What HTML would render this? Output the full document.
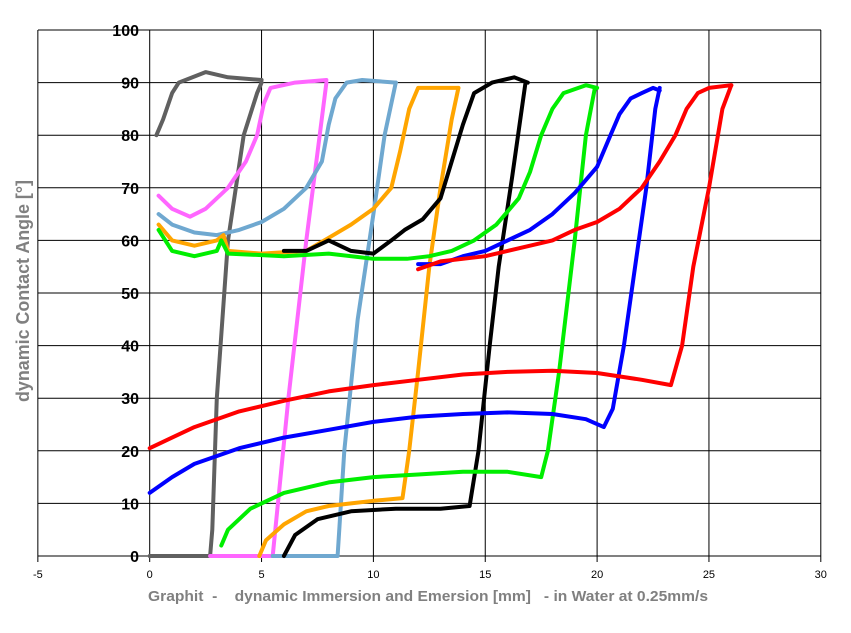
<!DOCTYPE html>
<html><head><meta charset="utf-8"><style>
body{margin:0;background:#fff;}
svg{display:block;font-family:"Liberation Sans",Arial,sans-serif;}
</style></head><body>
<svg id="s" width="851" height="633" xmlns="http://www.w3.org/2000/svg">
<rect width="851" height="633" fill="#fff"/>
<g id="grid" stroke="#000" stroke-width="1"></g>
<g id="lbl"></g>
<g id="data" fill="none" stroke-width="4" stroke-linejoin="round" stroke-linecap="round"></g>
<text x="148" y="601" textLength="560" lengthAdjust="spacingAndGlyphs" font-size="15" font-weight="bold" fill="#808080" xml:space="preserve">Graphit  -    dynamic Immersion and Emersion [mm]   - in Water at 0.25mm/s</text>
<text transform="translate(29,291) rotate(-90)" x="-111" y="0" textLength="222" lengthAdjust="spacingAndGlyphs" font-size="18" font-weight="bold" fill="#808080">dynamic Contact Angle [°]</text>
</svg>
<script>
const X=v=>149.7+22.37*v, Y=v=>556-5.26*v;
const g=document.getElementById('grid'),l=document.getElementById('lbl'),d=document.getElementById('data');
const NS='http://www.w3.org/2000/svg';
function el(p,t,a,txt){const e=document.createElementNS(NS,t);for(const k in a)e.setAttribute(k,a[k]);if(txt!==undefined)e.textContent=txt;p.appendChild(e);return e;}
for(let v=0;v<=100;v+=10){el(g,'line',{x1:38,x2:821,y1:Y(v),y2:Y(v)});el(l,'text',{x:139,y:Y(v)+6,'text-anchor':'end','font-size':16,'font-weight':'bold'},v);}
for(let v=-5;v<=30;v+=5){el(g,'line',{x1:X(v),x2:X(v),y1:30,y2:562});el(l,'text',{x:X(v),y:578,'text-anchor':'middle','font-size':11},v);}
const S=[
['#606060',[[0,0],[2.7,0],[2.8,5],[3,30],[3.5,60],[4.2,80],[4.8,88],[5,90]],[[0.3,80],[0.6,83],[1,88],[1.3,90],[2.5,92],[3.5,91],[5,90.5]]],
['#ff66ff',[[2.7,0],[5.5,0],[6.2,30],[7,60],[7.6,80],[7.9,90]],[[0.4,68.5],[1,66],[1.8,64.5],[2.5,66],[3.5,70],[4.3,75],[4.8,80],[5.1,86],[5.4,89],[6.5,90],[7.9,90.5]]],
['#6fa8d0',[[5.5,0],[8.4,0],[8.7,20],[9.3,45],[10,65],[10.5,80],[11,90]],[[0.4,65],[1,63],[2,61.5],[3,61],[4,62],[5,63.5],[6,66],[7,70],[7.7,75],[8,82],[8.3,87],[8.8,90],[9.5,90.5],[11,90]]],
['#ffa500',[[4.9,0],[5.2,3],[6,6],[7,8.5],[8,9.5],[9,10],[10,10.5],[11.3,11],[11.6,20],[12,35],[12.5,55],[13,70],[13.5,83],[13.8,89]],[[0.4,63],[1,60],[2,59],[3,60],[3.3,61],[3.5,58],[5,57.5],[7,58],[8,60.5],[9,63],[10,66],[10.8,70],[11.2,77],[11.6,85],[12,89],[13.8,89]]],
['#000000',[[6,0],[6.5,4],[7.5,7],[9,8.5],[11,9],[13,9],[14.3,9.5],[14.7,20],[15.2,40],[15.6,55],[16.2,72],[16.8,90]],[[6,58],[7,58],[8,60],[9,58],[10,57.5],[10.8,60],[11.4,62],[12.2,64],[13,68],[13.5,75],[14,82],[14.5,88],[15.3,90],[16.3,91],[16.9,90]]],
['#00ee00',[[3.2,2],[3.5,5],[4.5,9],[6,12],[8,14],[10,15],[12,15.5],[14,16],[16,16],[17.5,15],[17.8,20],[18.3,35],[19,60],[19.5,80],[19.9,89]],[[0.4,62],[1,58],[2,57],[3,58],[3.2,60],[3.5,57.5],[6,57],[8,57.5],[10,56.5],[11.5,56.5],[12.5,57],[13.5,58],[14.5,60],[15.5,63],[16.5,68],[17,73],[17.5,80],[18,85],[18.5,88],[19.5,89.5],[20,89]]],
['#0000ff',[[0,12],[1,15],[2,17.5],[4,20.5],[6,22.5],[8,24],[10,25.5],[12,26.5],[14,27],[16,27.3],[18,27],[19.5,26],[20.3,24.5],[20.7,28],[21.2,40],[21.7,55],[22.2,70],[22.6,85],[22.8,89]],[[12,55.5],[13,55.5],[14,57],[15,58],[16,60],[17,62],[18,65],[19,69],[20,74],[20.6,80],[21,84],[21.5,87],[22,88],[22.5,89],[22.8,88.5]]],
['#ff0000',[[0,20.5],[1,22.5],[2,24.5],[4,27.5],[6,29.5],[8,31.3],[10,32.5],[12,33.5],[14,34.5],[16,35],[18,35.2],[20,34.8],[22,33.5],[23.3,32.5],[23.8,40],[24.3,55],[25,70],[25.6,85],[26,89.5]],[[12,54.5],[13,56],[14,56.5],[15,57],[16,58],[17,59],[18,60],[19,62],[20,63.5],[21,66],[22,70],[22.8,75],[23.5,80],[24,85],[24.5,88],[25,89],[26,89.5]]]
];
for(const [c,a,b] of S){for(const p of [a,b]){el(d,'polyline',{stroke:c,points:p.map(q=>X(q[0]).toFixed(1)+','+Y(q[1]).toFixed(1)).join(' ')});}}
</script>
</body></html>
